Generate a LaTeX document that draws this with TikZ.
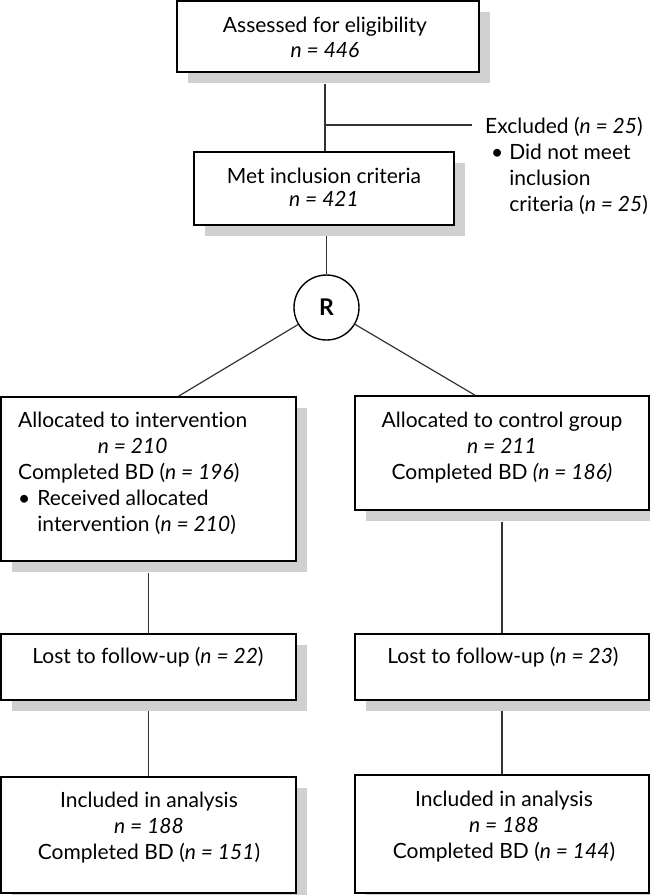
\documentclass[tikz,border=0pt]{standalone}
\usepackage{fontspec}
\setmainfont{Lato}[Ligatures={NoCommon}]
\usetikzlibrary{shadows}
\definecolor{shadowgray}{HTML}{D0D0D0}
\definecolor{linegray}{HTML}{333333}
\newcommand\diagfont{\fontsize{21}{26}\selectfont}
\begin{document}
\begin{tikzpicture}[x=1pt,y=-1pt,
  box/.style={draw=black, line width=1.6pt, fill=white, rectangle, inner sep=0pt,
    drop shadow={shadow xshift=11pt, shadow yshift=-11pt, fill=shadowgray, opacity=1}},
  txt/.style={inner sep=0pt, font=\diagfont},
  conn/.style={draw=linegray, line width=1.2pt}]
\useasboundingbox (0,0) rectangle (650,895);

% boxes
\node[box, minimum width=302pt, minimum height=71pt] (top) at (328,36.5) {};
\node[box, minimum width=260pt, minimum height=73pt] (met) at (324,188.5) {};
\node[box, minimum width=295pt, minimum height=164pt] (alloc1) at (148.5,479) {};
\node[box, minimum width=294pt, minimum height=114pt] (alloc2) at (502,453) {};
\node[box, minimum width=295pt, minimum height=66pt] (lost1) at (148.5,667) {};
\node[box, minimum width=294pt, minimum height=66pt] (lost2) at (502,667) {};
\node[box, minimum width=295pt, minimum height=116pt] (incl1) at (148.5,835) {};
\node[box, minimum width=294pt, minimum height=118pt] (incl2) at (502,834) {};
\node[circle, draw=black, line width=1.4pt, fill=white, minimum size=65pt, inner sep=0pt,
  font=\fontsize{23}{23}\selectfont\bfseries] (R) at (326.5,307.5) {R};

% texts
\node[txt, anchor=base] (toptxt) at (325,32)
  {\fontsize{21}{25}\selectfont\begin{tabular}[t]{@{}c@{}}Assessed for eligibility\\\textit{n = 446}\end{tabular}};
\node[txt, anchor=base] (mettxt) at (324,183)
  {\fontsize{21}{23}\selectfont\begin{tabular}[t]{@{}c@{}}Met inclusion criteria\\\textit{n = 421}\end{tabular}};
\node[txt, anchor=base west] (excl) at (485,133)
  {\begin{tabular}[t]{@{}l@{}l@{}}\multicolumn{2}{@{}l@{}}{Excluded (\textit{n = 25})}\\
   \hspace{6pt}\textbullet\hspace{6pt} & Did not meet\\
   & inclusion\\
   & criteria (\textit{n = 25})\end{tabular}};
\node[txt, anchor=base west] (alloc1txt) at (18,427)
  {\begin{tabular}[t]{@{}l@{}l@{}}\multicolumn{2}{@{}l@{}}{Allocated to intervention}\\
   \multicolumn{2}{@{}c@{}}{\textit{n = 210}}\\
   \multicolumn{2}{@{}l@{}}{Completed BD (\textit{n = 196})}\\
   \textbullet\hspace{7pt} & Received allocated\\
   & intervention (\textit{n = 210})\end{tabular}};
\node[txt, anchor=base] (alloc2txt) at (502,427)
  {\begin{tabular}[t]{@{}c@{}}Allocated to control group\\\textit{n = 211}\\Completed BD \textit{(n = 186)}\end{tabular}};
\node[txt, anchor=base] (lost1txt) at (148,663) {Lost to follow-up (\textit{n = 22})};
\node[txt, anchor=base] (lost2txt) at (503,663) {Lost to follow-up (\textit{n = 23})};
\node[txt, anchor=base] (incl1txt) at (149,807)
  {\begin{tabular}[t]{@{}c@{}}Included in analysis\\\textit{n = 188}\\Completed BD (\textit{n = 151})\end{tabular}};
\node[txt, anchor=base] (incl2txt) at (504,806)
  {\begin{tabular}[t]{@{}c@{}}Included in analysis\\\textit{n = 188}\\Completed BD (\textit{n = 144})\end{tabular}};

% connectors
\coordinate (exj) at (325,125);
\draw[conn, shorten <=11pt] (exj |- top.south) -- (exj |- met.north);
\draw[conn, shorten >=13pt] (exj) -- (exj -| excl.west);
\draw[conn, shorten <=10pt] (R.north |- met.south) -- (R.north);
\draw[conn] (R) -- ([xshift=30pt]alloc1.north);
\draw[conn] (R) -- ([xshift=-27pt]alloc2.north);
\draw[conn, shorten <=11pt] (alloc1.south) -- (lost1.north);
\draw[conn, shorten <=11pt] (alloc2.south) -- (lost2.north);
\draw[conn, shorten <=10pt] (lost1.south) -- (incl1.north);
\draw[conn, shorten <=10pt] (lost2.south) -- (incl2.north);
\end{tikzpicture}
\end{document}
